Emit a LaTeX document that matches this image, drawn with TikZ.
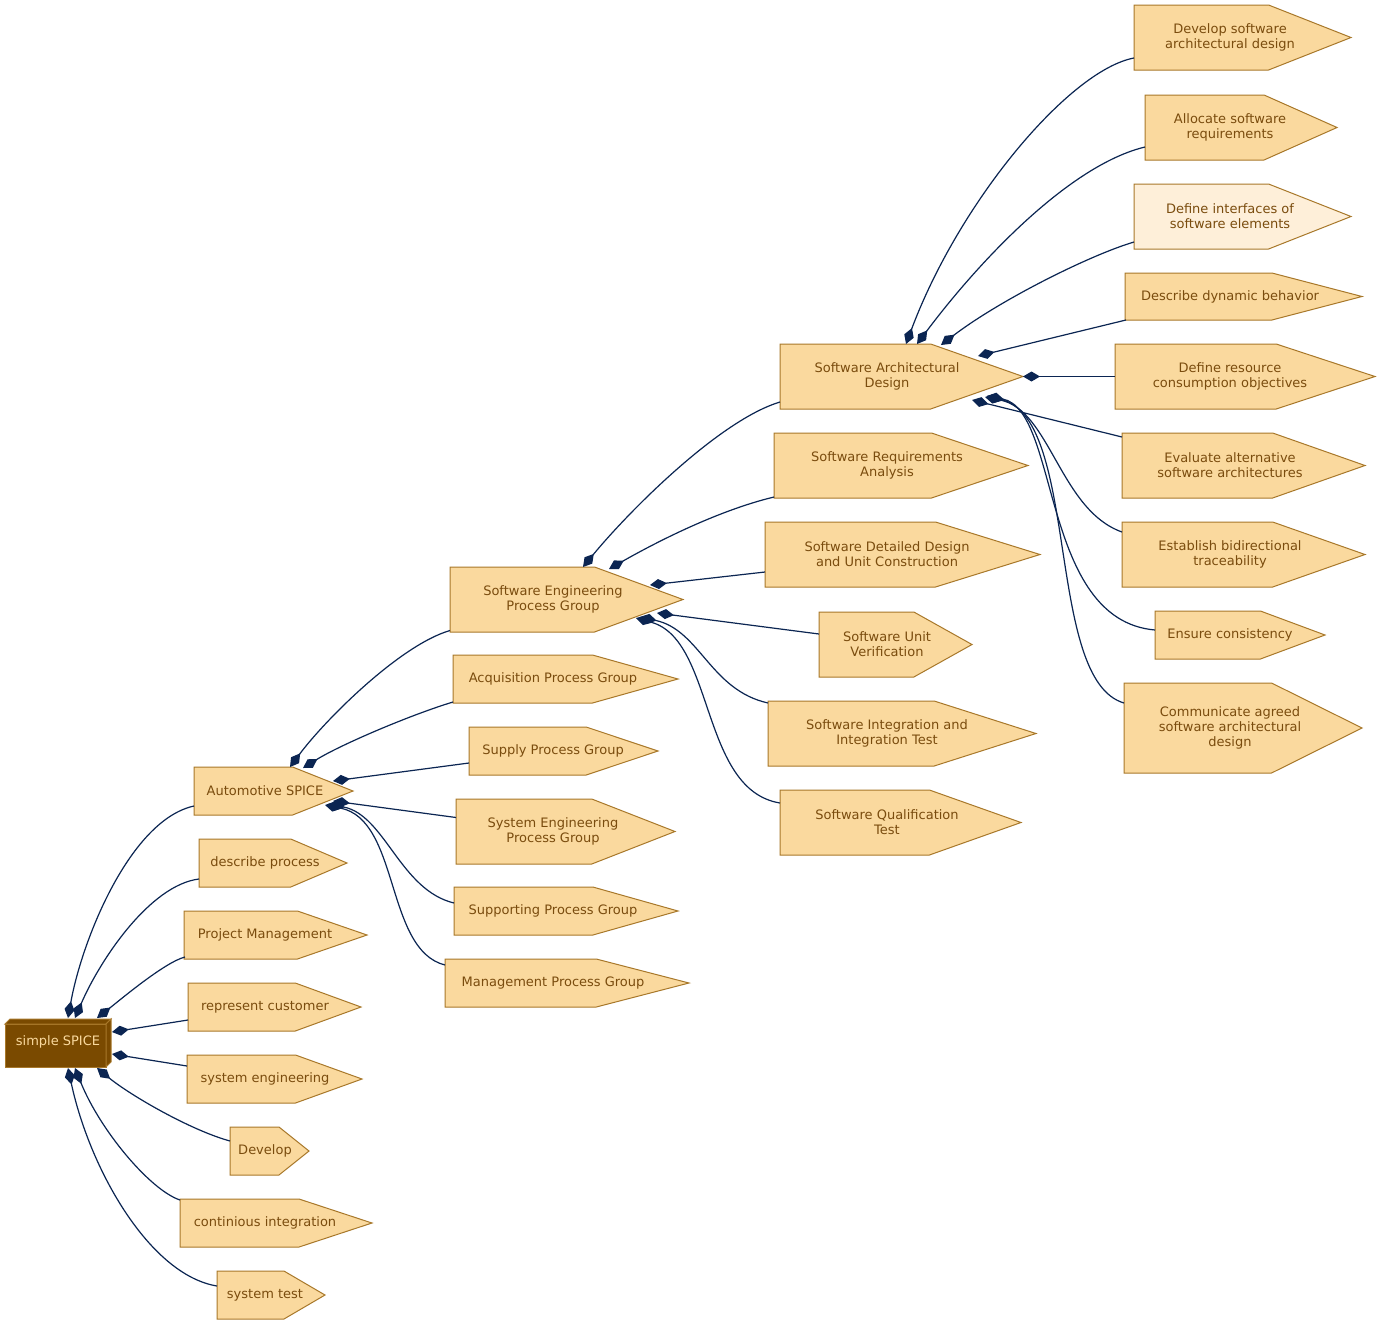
\documentclass[tikz,border=0pt]{standalone}
\usepackage{fontspec}
\setmainfont{DejaVu Sans}
\usetikzlibrary{arrows.meta}
\definecolor{nodefill}{HTML}{FAD99E}
\definecolor{nodeline}{HTML}{A8782A}
\definecolor{nodetext}{HTML}{7A4C0E}
\definecolor{edgecol}{HTML}{0B2552}
\definecolor{rootfill}{HTML}{7A4A00}
\definecolor{lightfill}{HTML}{FEEFD9}
\tikzset{
  cdsbox/.style={draw=nodeline, fill=nodefill, line width=1pt, line join=miter},
  lbl/.style={text=nodetext, font=\fontsize{13}{15}\selectfont, align=center, inner sep=0pt},
  conn/.style={draw=edgecol, line width=1.2pt, {Diamond[length=17pt,width=10pt]}-},
}
\newcommand\cdsnode[8][]{%
  \pgfmathsetmacro\cdsR{#3+0.62*(#4-#3)}%
  \pgfmathsetmacro\cdsM{(#5+#6)/2}%
  \path[cdsbox,#1] (#3,#5) -- (\cdsR,#5) -- (#4,\cdsM) -- (\cdsR,#6) -- (#3,#6) -- cycle;
  \node[lbl] (#2) at (#7,\cdsM) {#8};
  \coordinate (#2-l) at (#3,\cdsM);
}
\begin{document}
\begin{tikzpicture}[x=1pt,y=-1pt]
\fill[white] (0,0) rectangle (1380,1325);
\useasboundingbox (0,0) rectangle (1380,1325);

% root box3d
\path[draw=nodeline, fill=rootfill, line width=1pt, line join=miter] (5,1024) rectangle (106,1067);
\path[draw=nodeline, fill=rootfill, line width=1pt, line join=miter] (5,1024) -- (10,1019) -- (111,1019) -- (106,1024) -- cycle;
\path[draw=nodeline, fill=rootfill, line width=1pt, line join=miter] (106,1024) -- (111,1019) -- (111,1062) -- (106,1067) -- cycle;
\node[lbl, text=nodefill] (root) at (58,1042) {simple SPICE};

% column 1
\cdsnode{auto}{194}{353}{767}{815}{265}{Automotive SPICE}
\cdsnode{desc}{199}{347}{839}{887}{265}{describe process}
\cdsnode{proj}{184}{367}{911}{959}{265}{Project Management}
\cdsnode{repr}{188}{361}{983}{1031}{265}{represent customer}
\cdsnode{syse}{187}{362}{1055}{1103}{265}{system engineering}
\cdsnode{dev}{230}{309}{1127}{1175}{265}{Develop}
\cdsnode{ci}{180}{372}{1199}{1247}{265}{continious integration}
\cdsnode{st}{217}{325}{1271}{1319}{265}{system test}

% column 2
\cdsnode{sepg}{450}{683}{567}{632}{553}{Software Engineering\\Process Group}
\cdsnode{acq}{453}{678}{655}{703}{553}{Acquisition Process Group}
\cdsnode{sup}{469}{658}{727}{775}{553}{Supply Process Group}
\cdsnode{sys}{456}{675}{799}{864}{553}{System Engineering\\Process Group}
\cdsnode{supp}{454}{678}{887}{935}{553}{Supporting Process Group}
\cdsnode{mgmt}{445}{689}{959}{1007}{553}{Management Process Group}

% column 3
\cdsnode{sad}{780}{1023}{344}{409}{887}{Software Architectural\\Design}
\cdsnode{sra}{774}{1028}{433}{498}{887}{Software Requirements\\Analysis}
\cdsnode{sdd}{765}{1040}{522}{587}{887}{Software Detailed Design\\and Unit Construction}
\cdsnode{suv}{819}{972}{612}{677}{887}{Software Unit\\Verification}
\cdsnode{siit}{768}{1036}{701}{766}{887}{Software Integration and\\Integration Test}
\cdsnode{sqt}{780}{1021}{790}{855}{887}{Software Qualification\\Test}

% column 4
\cdsnode{dsad}{1134}{1351}{5}{70}{1230}{Develop software\\architectural design}
\cdsnode{alloc}{1145}{1337}{95}{160}{1230}{Allocate software\\requirements}
\cdsnode[fill=lightfill]{defi}{1134}{1351}{184}{249}{1230}{Define interfaces of\\software elements}
\cdsnode{ddyn}{1125}{1362}{273}{320}{1230}{Describe dynamic behavior}
\cdsnode{defr}{1115}{1375}{344}{409}{1230}{Define resource\\consumption objectives}
\cdsnode{eval}{1122}{1365}{433}{498}{1230}{Evaluate alternative\\software architectures}
\cdsnode{estab}{1122}{1365}{522}{587}{1230}{Establish bidirectional\\traceability}
\cdsnode{ens}{1155}{1325}{611}{659}{1230}{Ensure consistency}
\cdsnode{comm}{1124}{1362}{683}{773}{1230}{Communicate agreed\\software architectural\\design}

% edges from root
\draw[conn] ([shift={(10,-24)}]root.center) .. controls (82,940) and (130,820) .. ([shift={(0,15)}]auto-l);
\draw[conn] ([shift={(17,-24)}]root.center) .. controls (100,960) and (150,885) .. ([shift={(0,16)}]desc-l);
\draw[conn] ([shift={(39,-24)}]root.center) .. controls (120,1000) and (165,962) .. ([shift={(1,22)}]proj-l);
\draw[conn] ([shift={(54,-10)}]root.center) -- ([shift={(0,13)}]repr-l);
\draw[conn] ([shift={(54,12)}]root.center) -- ([shift={(0,-13)}]syse-l);
\draw[conn] ([shift={(39,26)}]root.center) .. controls (130,1095) and (190,1130) .. ([shift={(0,-10)}]dev-l);
\draw[conn] ([shift={(17,26)}]root.center) .. controls (100,1130) and (150,1190) .. ([shift={(0,-23)}]ci-l);
\draw[conn] ([shift={(10,26)}]root.center) .. controls (90,1170) and (150,1275) .. ([shift={(0,-9)}]st-l);

% edges from auto
\draw[conn] ([shift={(25,-24)}]auto.center) .. controls (325,720) and (400,645) .. ([shift={(0,31)}]sepg-l);
\draw[conn] ([shift={(38,-23)}]auto.center) .. controls (340,745) and (410,715) .. ([shift={(0,23)}]acq-l);
\draw[conn] ([shift={(68,-10)}]auto.center) -- ([shift={(0,12)}]sup-l);
\draw[conn] ([shift={(68,10)}]auto.center) -- ([shift={(0,-14)}]sys-l);
\draw[conn] ([shift={(63,13)}]auto.center) .. controls (385,815) and (400,890) .. ([shift={(0,-8)}]supp-l);
\draw[conn] ([shift={(60,14)}]auto.center) .. controls (400,820) and (385,950) .. ([shift={(0,-18)}]mgmt-l);

% edges from sepg
\draw[conn] ([shift={(30,-32.5)}]sepg.center) .. controls (630,510) and (720,420) .. ([shift={(0,25.5)}]sad-l);
\draw[conn] ([shift={(56,-30.5)}]sepg.center) .. controls (660,540) and (720,510) .. ([shift={(0,31.5)}]sra-l);
\draw[conn] ([shift={(97,-14.5)}]sepg.center) -- ([shift={(0,17.5)}]sdd-l);
\draw[conn] ([shift={(104,13.5)}]sepg.center) -- ([shift={(0,-10.5)}]suv-l);
\draw[conn] ([shift={(87,17.5)}]sepg.center) .. controls (700,630) and (710,690) .. ([shift={(0,-30.5)}]siit-l);
\draw[conn] ([shift={(83,18.5)}]sepg.center) .. controls (715,640) and (700,790) .. ([shift={(0,-19.5)}]sqt-l);

% edges from sad
\draw[conn] ([shift={(19,-32.5)}]sad.center) .. controls (960,200) and (1070,70) .. ([shift={(0,20.5)}]dsad-l);
\draw[conn] ([shift={(30,-32.5)}]sad.center) .. controls (980,260) and (1070,165) .. ([shift={(0,19.5)}]alloc-l);
\draw[conn] ([shift={(54,-31.5)}]sad.center) .. controls (1000,300) and (1090,255) .. ([shift={(0,25.5)}]defi-l);
\draw[conn] ([shift={(91,-20.5)}]sad.center) -- ([shift={(1,23.5)}]ddyn-l);
\draw[conn] ([shift={(136,0)}]sad.center) -- (defr-l);
\draw[conn] ([shift={(85,23.5)}]sad.center) -- ([shift={(0,-28.5)}]eval-l);
\draw[conn] ([shift={(98,20.5)}]sad.center) .. controls (1050,410) and (1060,510) .. ([shift={(0,-22.5)}]estab-l);
\draw[conn] ([shift={(100,19.5)}]sad.center) .. controls (1060,410) and (1040,620) .. ([shift={(0,-5)}]ens-l);
\draw[conn] ([shift={(100,19.5)}]sad.center) .. controls (1080,420) and (1045,680) .. ([shift={(0,-25)}]comm-l);
\end{tikzpicture}
\end{document}
